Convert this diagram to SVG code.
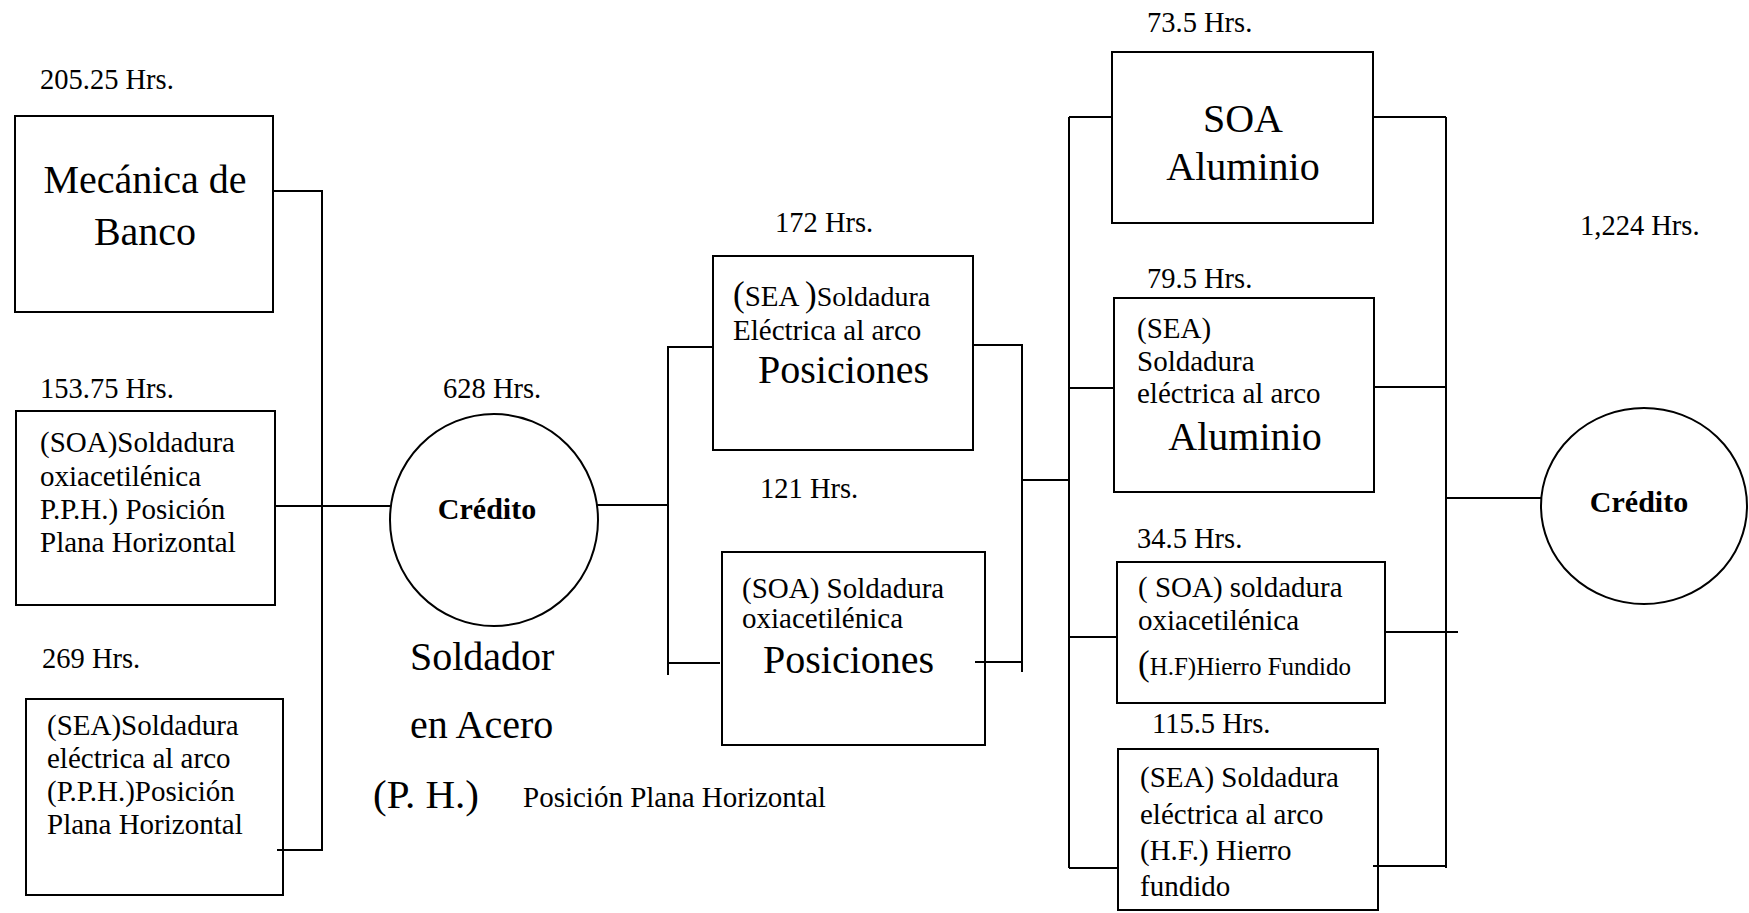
<svg xmlns="http://www.w3.org/2000/svg" width="1749" height="913" viewBox="0 0 1749 913">
<style>
.box{fill:none;stroke:#000;stroke-width:2}
.ln{fill:none;stroke:#000;stroke-width:2}
text{font-family:"Liberation Serif","Times New Roman",serif;fill:#000}
.hrs{font-size:28.5px}
.body{font-size:29px}
.big{font-size:40px}
.cred{font-size:30px;font-weight:bold}
.mid{text-anchor:middle}
</style>
<rect width="1749" height="913" fill="#fff"/>
<g id="connectors">
<polyline class="ln" points="273,191 322,191 322,850 277,850"/>
<line class="ln" x1="275" y1="506" x2="390" y2="506"/>
<line class="ln" x1="597" y1="505" x2="668" y2="505"/>
<polyline class="ln" points="713,347 668,347 668,675"/>
<line class="ln" x1="668" y1="663" x2="720" y2="663"/>
<polyline class="ln" points="973,345 1022,345 1022,672"/>
<line class="ln" x1="975" y1="662" x2="1022" y2="662"/>
<line class="ln" x1="1022" y1="480" x2="1069" y2="480"/>
<line class="ln" x1="1069" y1="117" x2="1069" y2="868"/>
<line class="ln" x1="1069" y1="117" x2="1112" y2="117"/>
<line class="ln" x1="1069" y1="388" x2="1114" y2="388"/>
<line class="ln" x1="1069" y1="637" x2="1117" y2="637"/>
<line class="ln" x1="1069" y1="868" x2="1118" y2="868"/>
<line class="ln" x1="1446" y1="117" x2="1446" y2="868"/>
<line class="ln" x1="1373" y1="117" x2="1446" y2="117"/>
<line class="ln" x1="1374" y1="387" x2="1446" y2="387"/>
<line class="ln" x1="1385" y1="632" x2="1458" y2="632"/>
<line class="ln" x1="1373" y1="866" x2="1446" y2="866"/>
<line class="ln" x1="1446" y1="498" x2="1541" y2="498"/>
</g>
<g id="n-mecanica">
<text class="hrs" x="40" y="89">205.25 Hrs.</text>
<rect class="box" x="15" y="116" width="258" height="196"/>
<text class="big mid" x="145" y="193">Mecánica de</text>
<text class="big mid" x="145" y="245">Banco</text>
</g>
<g id="n-soa-pph">
<text class="hrs" x="40" y="398">153.75 Hrs.</text>
<rect class="box" x="16" y="411" width="259" height="194"/>
<text class="body" x="40" y="452">(SOA)Soldadura</text>
<text class="body" x="40" y="486">oxiacetilénica</text>
<text class="body" x="40" y="519">P.P.H.) Posición</text>
<text class="body" x="40" y="552">Plana Horizontal</text>
</g>
<g id="n-sea-pph">
<text class="hrs" x="42" y="668">269 Hrs.</text>
<rect class="box" x="26" y="699" width="257" height="196"/>
<text class="body" x="47" y="735">(SEA)Soldadura</text>
<text class="body" x="47" y="768">eléctrica al arco</text>
<text class="body" x="47" y="801">(P.P.H.)Posición</text>
<text class="body" x="47" y="834">Plana Horizontal</text>
</g>
<g id="n-credito1">
<text class="hrs" x="443" y="398">628 Hrs.</text>
<ellipse class="box" cx="494" cy="520" rx="104" ry="106"/>
<text class="cred mid" x="487" y="519">Crédito</text>
</g>
<g id="n-soldador">
<text class="big" x="410" y="670">Soldador</text>
<text class="big" x="410" y="738">en Acero</text>
<text x="373" y="808" font-size="41">(P. H.)</text>
<text class="body" x="523" y="807">Posición Plana Horizontal</text>
</g>
<g id="n-sea-pos">
<text class="hrs" x="775" y="232">172 Hrs.</text>
<rect class="box" x="713" y="256" width="260" height="194"/>
<text x="733" y="306"><tspan font-size="35">(</tspan><tspan font-size="29">SEA </tspan><tspan font-size="35">)</tspan><tspan font-size="28">Soldadura</tspan></text>
<text class="body" x="733" y="340">Eléctrica al arco</text>
<text class="big" x="758" y="383">Posiciones</text>
</g>
<g id="n-soa-pos">
<text class="hrs" x="760" y="498">121 Hrs.</text>
<rect class="box" x="722" y="552" width="263" height="193"/>
<text class="body" x="742" y="598">(SOA) Soldadura</text>
<text class="body" x="742" y="628">oxiacetilénica</text>
<text class="big" x="763" y="673">Posiciones</text>
</g>
<g id="n-soa-al">
<text class="hrs" x="1147" y="32">73.5 Hrs.</text>
<rect class="box" x="1112" y="52" width="261" height="171"/>
<text class="big mid" x="1243" y="132">SOA</text>
<text class="big mid" x="1243" y="180">Aluminio</text>
</g>
<g id="n-sea-al">
<text class="hrs" x="1147" y="288">79.5 Hrs.</text>
<rect class="box" x="1114" y="298" width="260" height="194"/>
<text class="body" x="1137" y="338">(SEA)</text>
<text class="body" x="1137" y="371">Soldadura</text>
<text class="body" x="1137" y="403">eléctrica al arco</text>
<text class="big mid" x="1245" y="450">Aluminio</text>
</g>
<g id="n-soa-hf">
<text class="hrs" x="1137" y="548">34.5 Hrs.</text>
<rect class="box" x="1117" y="562" width="268" height="141"/>
<text class="body" x="1138" y="597">( SOA) soldadura</text>
<text class="body" x="1138" y="630">oxiacetilénica</text>
<text x="1138" y="675"><tspan font-size="35">(</tspan><tspan font-size="25">H.F)Hierro Fundido</tspan></text>
</g>
<g id="n-sea-hf">
<text class="hrs" x="1152" y="733">115.5 Hrs.</text>
<rect class="box" x="1118" y="749" width="260" height="161"/>
<text class="body" x="1140" y="787">(SEA) Soldadura</text>
<text class="body" x="1140" y="824">eléctrica al arco</text>
<text class="body" x="1140" y="860">(H.F.) Hierro</text>
<text class="body" x="1140" y="896">fundido</text>
</g>
<g id="n-credito2">
<text class="hrs" x="1580" y="235">1,224 Hrs.</text>
<ellipse class="box" cx="1644" cy="506" rx="103" ry="98"/>
<text class="cred mid" x="1639" y="512">Crédito</text>
</g>
</svg>
